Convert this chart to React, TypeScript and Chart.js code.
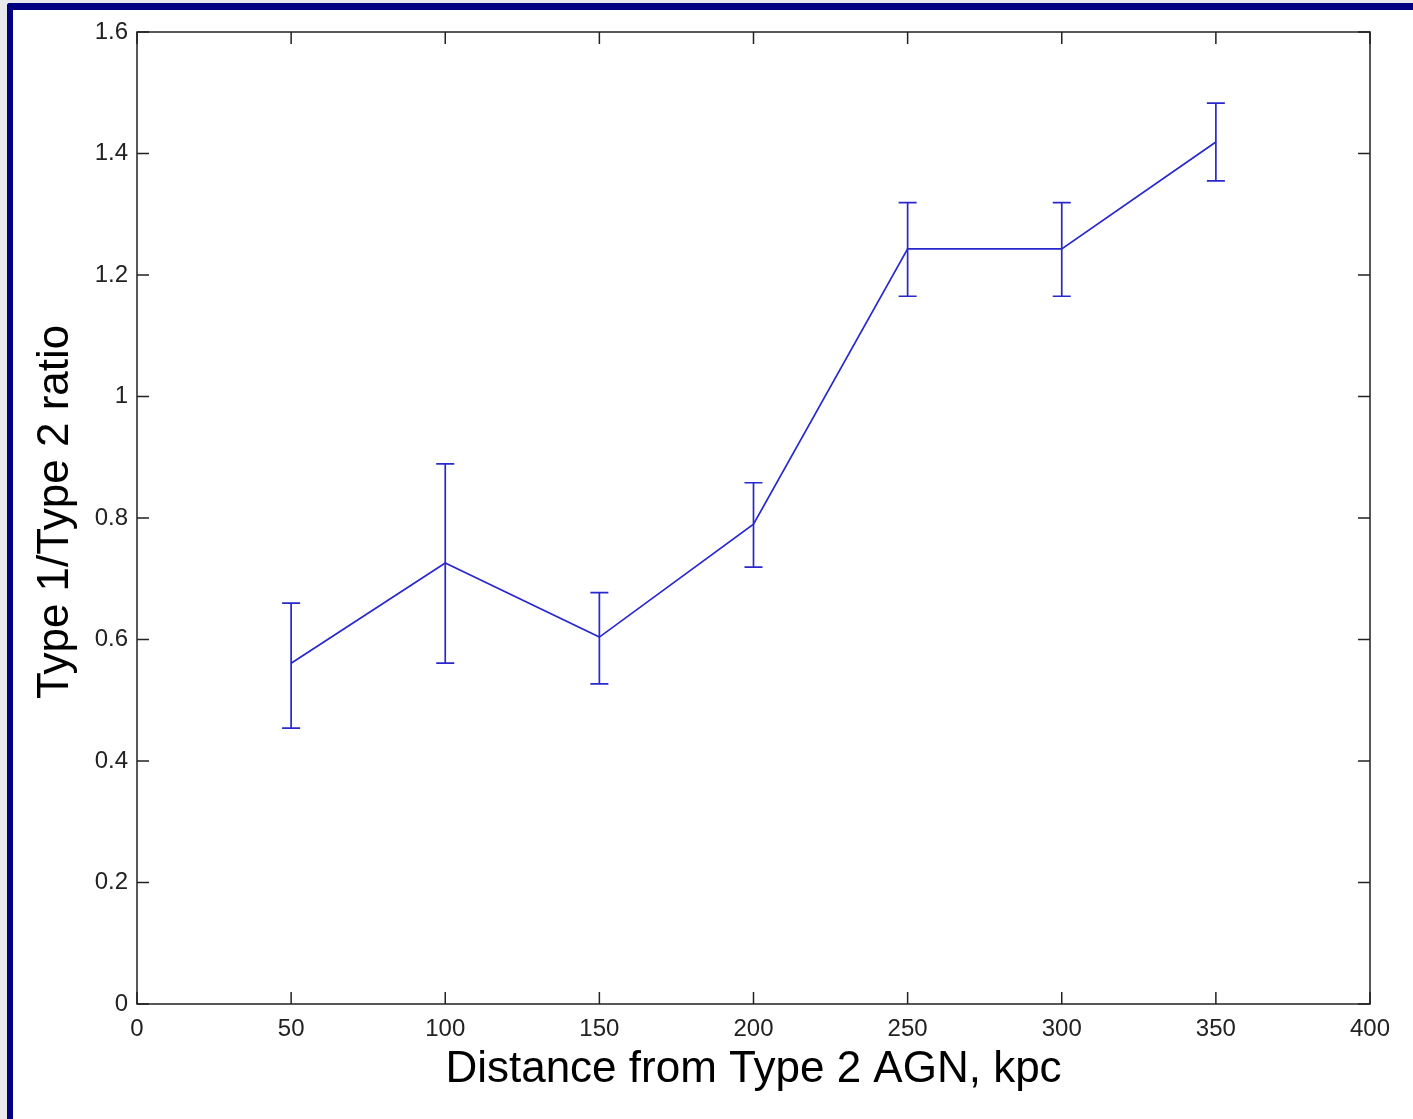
import React, { useEffect, useRef } from "react";
import { Chart, registerables } from "chart.js";

Chart.register(...registerables);

const distances = [50, 100, 150, 200, 250, 300, 350];
const ratios = [0.561, 0.726, 0.604, 0.79, 1.243, 1.243, 1.419];
const errUpper = [0.66, 0.889, 0.677, 0.858, 1.319, 1.319, 1.483];
const errLower = [0.454, 0.561, 0.527, 0.719, 1.165, 1.165, 1.355];
const yTickLabels: Record<string, string> = {
  "0": "0", "0.2": "0.2", "0.4": "0.4", "0.6": "0.6", "0.8": "0.8",
  "1": "1", "1.2": "1.2", "1.4": "1.4", "1.6": "1.6",
};

const LINE_COLOR = "rgb(40,40,205)";
const FONT = "'Liberation Sans', Arial, Helvetica, sans-serif";

const framePlugin = {
  id: "matlabFrame",
  afterDatasetsDraw(chart: any) {
    const { ctx, chartArea, scales } = chart;
    const { left, right, top, bottom } = chartArea;
    const xs = scales.x;
    const ys = scales.y;
    ctx.save();
    // error bars
    ctx.strokeStyle = LINE_COLOR;
    ctx.lineWidth = 1.7;
    for (let i = 0; i < distances.length; i++) {
      const px = xs.getPixelForValue(distances[i]);
      const pu = ys.getPixelForValue(errUpper[i]);
      const pl = ys.getPixelForValue(errLower[i]);
      const cap = 9;
      ctx.beginPath();
      ctx.moveTo(px, pu);
      ctx.lineTo(px, pl);
      ctx.moveTo(px - cap, pu);
      ctx.lineTo(px + cap, pu);
      ctx.moveTo(px - cap, pl);
      ctx.lineTo(px + cap, pl);
      ctx.stroke();
    }
    // box
    ctx.strokeStyle = "#222";
    ctx.lineWidth = 1.5;
    ctx.strokeRect(left, top, right - left, bottom - top);
    // inward ticks
    const tl = 12;
    ctx.beginPath();
    xs.ticks.forEach((t: any) => {
      const p = xs.getPixelForValue(t.value);
      ctx.moveTo(p, bottom);
      ctx.lineTo(p, bottom - tl);
      ctx.moveTo(p, top);
      ctx.lineTo(p, top + tl);
    });
    ys.ticks.forEach((t: any) => {
      const p = ys.getPixelForValue(t.value);
      ctx.moveTo(left, p);
      ctx.lineTo(left + tl, p);
      ctx.moveTo(right, p);
      ctx.lineTo(right - tl, p);
    });
    ctx.stroke();
    ctx.restore();
  },
};

export default function App() {
  const ref = useRef<HTMLCanvasElement | null>(null);
  useEffect(() => {
    document.body.style.margin = "0";
    const chart = new Chart(ref.current as HTMLCanvasElement, {
      type: "scatter",
      data: {
        datasets: [
          {
            data: distances.map((d, i) => ({ x: d, y: ratios[i] })),
            showLine: true,
            borderColor: LINE_COLOR,
            borderWidth: 1.7,
            pointRadius: 0,
            tension: 0,
          },
        ],
      },
      options: {
        animation: false,
        responsive: false,
        maintainAspectRatio: false,
        layout: { padding: { left: 0, top: 32, right: 43, bottom: 0 } },
        plugins: { legend: { display: false }, tooltip: { enabled: false } },
        scales: {
          x: {
            type: "linear",
            min: 0,
            max: 400,
            border: { display: false },
            grid: { display: false, drawTicks: false },
            ticks: {
              stepSize: 50,
              padding: 11,
              color: "#222",
              font: { family: FONT, size: 24 },
              maxRotation: 0,
            },
            title: {
              display: true,
              text: "Distance from Type 2 AGN, kpc",
              color: "#000",
              font: { family: FONT, size: 44 },
              padding: { top: 0, bottom: 23 },
            },
            afterFit(s: any) {
              s.height = 115;
            },
          },
          y: {
            type: "linear",
            min: 0,
            max: 1.6,
            border: { display: false },
            grid: { display: false, drawTicks: false },
            ticks: {
              stepSize: 0.2,
              padding: 9,
              color: "#222",
              font: { family: FONT, size: 24 },
              callback: (v: any) => {
                const k = String(Math.round(Number(v) * 10) / 10);
                return yTickLabels[k] ?? k;
              },
            },
            title: {
              display: true,
              text: " Type 1/Type 2 ratio",
              color: "#000",
              font: { family: FONT, size: 44 },
              padding: { top: 29, bottom: 0 },
            },
            afterFit(s: any) {
              s.width = 137;
            },
          },
        },
      },
      plugins: [framePlugin],
    });
    return () => chart.destroy();
  }, []);

  return (
    <div
      style={{
        position: "absolute",
        left: 0,
        top: 0,
        width: 1413,
        height: 1119,
        background: "#e9e9eb",
        overflow: "hidden",
      }}
    >
      <div
        style={{
          position: "absolute",
          left: 7,
          top: 3,
          right: 0,
          bottom: 0,
          background: "#fff",
          borderLeft: "6px solid #000080",
          borderTop: "7px solid #000080",
          borderTopLeftRadius: 3,
        }}
      />
      <canvas
        ref={ref}
        width={1413}
        height={1119}
        style={{ position: "absolute", left: 0, top: 0, width: 1413, height: 1119 }}
      />
    </div>
  );
}
